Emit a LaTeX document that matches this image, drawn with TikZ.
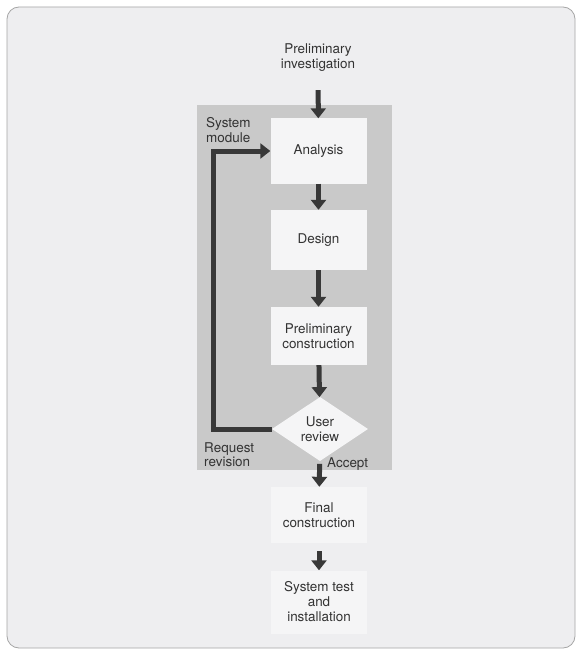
\documentclass[tikz,border=0pt]{standalone}
\usepackage{fontspec}
\setmainfont{TeX Gyre Heros}
\usetikzlibrary{arrows.meta,shapes.geometric}
\definecolor{papier}{rgb}{0.935,0.935,0.94}
\definecolor{modulgrau}{rgb}{0.79,0.79,0.79}
\definecolor{kasten}{rgb}{0.96,0.96,0.965}
\definecolor{pfeil}{rgb}{0.22,0.22,0.22}
\definecolor{schrift}{rgb}{0.2,0.2,0.2}

\tikzset{
  stufe/.style={fill=kasten,draw=none,text=schrift,align=center,
    minimum width=96bp,inner sep=0pt,font=\fontsize{13.5}{15}\selectfont},
  pruefung/.style={diamond,fill=kasten,draw=none,text=schrift,align=center,
    minimum width=96bp,minimum height=64bp,aspect=1.5,inner sep=0pt,
    font=\fontsize{13.5}{15}\selectfont},
  marke/.style={text=schrift,align=left,inner sep=0pt,font=\fontsize{13.5}{15}\selectfont},
  fluss/.style={draw=pfeil,line width=5bp,-{Triangle[width=15bp,length=10bp]}},
}

\begin{document}
\begin{tikzpicture}[yscale=-1,x=1bp,y=1bp]
  \useasboundingbox (0,0) rectangle (577,653);

  % --- Rahmen und Hintergrund ---
  \fill[white] (0,0) rectangle (577,653);
  \draw[fill=papier,draw=gray!70,line width=0.8bp,rounded corners=12bp] (7,7) rectangle (575,648);

  % --- grauer Block fuer das System-Modul ---
  \fill[modulgrau] (197,105) rectangle (392,470);

  % --- Stufen des Ablaufs ---
  \node[marke,align=center] (vorunters) at (318,58) {Preliminary\\investigation};
  \node[stufe,minimum height=65bp] (analyse) at (318.5,151) {Analysis};
  \node[stufe,minimum height=60bp] (entwurf) at (318.5,240) {Design};
  \node[stufe,minimum height=58bp] (vorbau) at (318.5,336) {Preliminary\\construction};
  \node[pruefung] (review) at (320,429) {User\\review};
  \node[stufe,minimum height=56bp] (endbau) at (319,515) {Final\\construction};
  \node[stufe,minimum height=63bp] (test) at (319,602) {System test\\and\\installation};

  % --- Beschriftungen ---
  \node[marke,anchor=north west] (modul) at (206,117) {System\\module};
  \node[marke,anchor=north west] (revision) at (204,442) {Request\\revision};
  \node[marke,anchor=west] (accept) at (327,464) {Accept};

  % --- Ablaufpfeile ---
  \draw[fluss,shorten <=18bp] (vorunters) -- (analyse);
  \draw[fluss] (analyse) -- (entwurf);
  \draw[fluss] (entwurf) -- (vorbau);
  \draw[fluss] (vorbau) -- (review);
  \draw[fluss,shorten <=3bp] (review) -- (endbau);
  \draw[fluss,shorten <=8bp] (endbau) -- (test);

  % --- Ruecksprung bei verlangter Ueberarbeitung ---
  \coordinate (schleife) at (213,0);
  \draw[fluss,line join=miter] (review.west) -- (review.west -| schleife) |- (analyse.west);

\end{tikzpicture}
\end{document}
